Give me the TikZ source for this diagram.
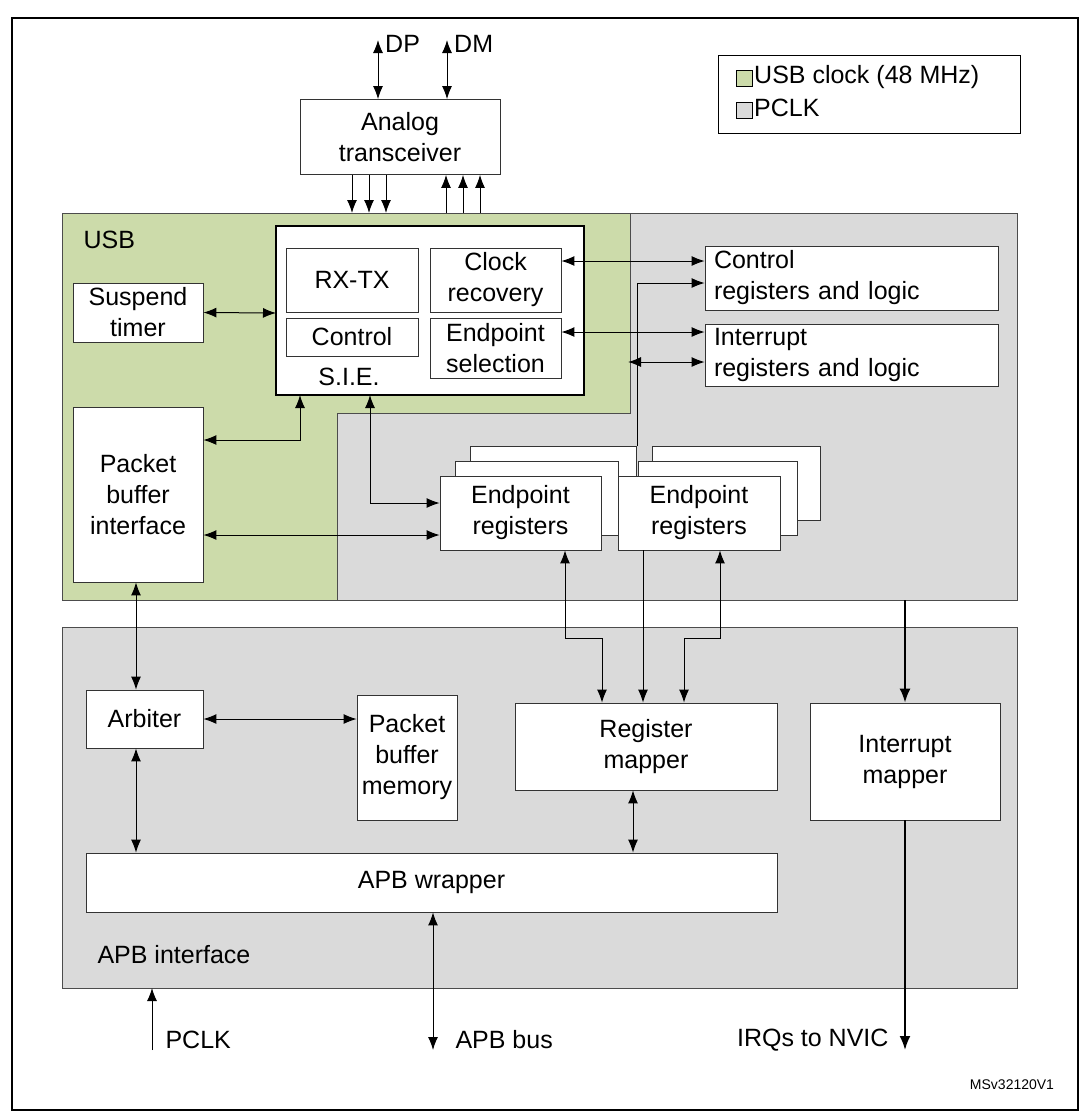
\documentclass[tikz,border=0pt]{standalone}
\usepackage{fontspec}
\setmainfont{Liberation Sans}
\usetikzlibrary{arrows.meta}
\begin{document}
\begin{tikzpicture}[x=1pt,y=-1pt,
  box/.style={draw=black!80,fill=white,line width=0.8pt,align=center,font=\fontsize{25}{31}\selectfont},
  lbl/.style={font=\fontsize{25}{31}\selectfont,anchor=west},
  ar/.style={-{Latex[length=13pt,width=10pt]},line width=1pt},
  dar/.style={{Latex[length=13pt,width=10pt]}-{Latex[length=13pt,width=10pt]},line width=1pt},
  thk/.style={-{Latex[length=14pt,width=11pt]},line width=2pt}]
\useasboundingbox (0,0) rectangle (1079,1111);
\definecolor{usbg}{RGB}{204,219,170}
\definecolor{pg}{RGB}{218,218,218}
\draw[line width=1.2pt] (12,18) rectangle (1078,1110);
% legend
\draw[line width=0.8pt] (718,55) rectangle (1020,133);
\node[draw,fill=usbg,minimum size=16pt,inner sep=0] (lg) at (744,78) {};
\node[draw,fill=pg,minimum size=16pt,inner sep=0] (lp) at (744,110) {};
\node[lbl,inner sep=2pt] (lgt) at (752,77) {USB clock (48 MHz)};
\node[lbl,inner sep=2pt] (lpt) at (752,108) {PCLK};
% regions
\draw[fill=pg,draw=black!70] (62,213) rectangle (1017,600);
\draw[fill=usbg,draw=black!70] (62,213) -- (630,213) -- (630,413) -- (337,413) -- (337,600) -- (62,600) -- cycle;
\node[lbl] (usb) at (80,240) {USB};
\draw[fill=pg,draw=black!70] (62,627) rectangle (1017,988);
\node[lbl] (apbi) at (94,955) {APB interface};
% analog
\node[box,minimum width=200pt,minimum height=75pt] (an) at (400,137) {Analog\\transceiver};
\coordinate (dp) at (378,40); \coordinate (dm) at (447,40);
\draw[dar] (an.north -| dp) -- (dp);
\draw[dar] (an.north -| dm) -- (dm);
\node[lbl,inner sep=1pt] at (384,44) {DP};
\node[lbl,inner sep=1pt] at (453,44) {DM};
\foreach \x in {352,369,386}{\coordinate (d\x) at (\x,213); \draw[ar] (an.south -| d\x) -- (d\x);}
\foreach \x in {446,463,480}{\coordinate (u\x) at (\x,213); \draw[ar] (u\x) -- (an.south -| u\x);}
% SIE
\draw[fill=white,line width=1.8pt] (276,226) rectangle (584,395);
\coordinate (sie) at (276,226);
\node[box,minimum width=132pt,minimum height=64pt] (rx) at (352,280) {RX-TX};
\node[box,minimum width=132pt,minimum height=38pt] (ctl) at (352,337) {Control};
\node[box,minimum width=131pt,minimum height=64pt] (clk) at (495.5,280) {Clock\\recovery};
\node[box,minimum width=131pt,minimum height=60pt] (eps) at (495.5,348) {Endpoint\\selection};
\node[font=\fontsize{25}{31}\selectfont] (siel) at (349,377) {S.I.E.};
\node[box,minimum width=130pt,minimum height=59pt] (sus) at (138,312.5) {Suspend\\timer};
\node[box,minimum width=130pt,minimum height=175pt] (pbi) at (138,494.5) {Packet\\buffer\\interface};
\node[box,minimum width=293pt,minimum height=64pt,align=left,text width=275pt] (cr) at (851.5,278) {Control\\registers and logic};
\node[box,minimum width=293pt,minimum height=62pt,align=left,text width=275pt] (ir) at (851.5,355) {Interrupt\\registers and logic};
% endpoint stacks
\draw[fill=white,draw=black!80,line width=0.8pt] (470,446) rectangle (636,520);
\draw[fill=white,draw=black!80,line width=0.8pt] (455,461) rectangle (618,535);
\node[box,minimum width=161pt,minimum height=74pt] (ep1) at (520.5,513) {Endpoint\\registers};
\draw[fill=white,draw=black!80,line width=0.8pt] (652,446) rectangle (820,520);
\draw[fill=white,draw=black!80,line width=0.8pt] (638,461) rectangle (797,535);
\node[box,minimum width=162pt,minimum height=74pt] (ep2) at (699,513) {Endpoint\\registers};
% SIE arrows
\draw[dar] (clk.east |- 0,261) -- (cr.west |- 0,261);
\draw[dar] (eps.east |- 0,332) -- (ir.west |- 0,332);
\draw[ar] (637,446) -- (637,283) -- (cr.west |- 0,283);
\draw[dar] (628,362) -- (ir.west |- 0,362);
\draw[dar] (sus.east) -- (276,313);
\draw[dar] (pbi.east |- 0,440) -- (300,440) -- (300,395);
\draw[dar] (370,395) -- (370,503) -- (ep1.west |- 0,503);
\draw[dar] (pbi.east |- 0,535) -- (ep1.west |- 0,535);
% bottom boxes
\node[box,minimum width=117pt,minimum height=58pt] (arb) at (144.5,719) {Arbiter};
\node[box,minimum width=100pt,minimum height=125pt] (pbm) at (407,757.5) {Packet\\buffer\\memory};
\node[box,minimum width=262pt,minimum height=87pt] (rm) at (646,746.5) {Register\\mapper};
\node[box,minimum width=190pt,minimum height=117pt] (im) at (905,761.5) {Interrupt\\mapper};
\node[box,minimum width=691pt,minimum height=59pt] (apb) at (431.5,882.5) {APB wrapper};
\draw[dar] (pbi.south -| 136,0) -- (arb.north -| 136,0);
\draw[dar] (arb.east) -- (pbm.west |- arb.east);
\draw[dar] (arb.south -| 136,0) -- (apb.north -| 136,0);
\draw[dar] (rm.south -| 633,0) -- (apb.north -| 633,0);
\draw[dar] (ep1.south -| 565,0) -- (565,638) -- (602,638) -- (rm.north -| 602,0);
\draw[ar] (ep2.south -| 643,0) -- (rm.north -| 643,0);
\draw[dar] (ep2.south -| 720,0) -- (720,638) -- (684,638) -- (rm.north -| 684,0);
\draw[thk] (905,600) -- (im.north);
\coordinate (irq) at (905,1050);
\draw[thk] (im.south) -- (irq);
\node[lbl,anchor=east] (irql) at (892,1040) {IRQs to NVIC};
\coordinate (pclk) at (152,1050);
\draw[ar] (pclk) -- (152,988);
\node[lbl] (pclkl) at (162,1040) {PCLK};
\coordinate (apbb) at (433,1050);
\draw[dar] (apb.south -| apbb) -- (apbb);
\node[lbl] (apbl) at (452,1040) {APB bus};
\node[font=\fontsize{14}{16}\selectfont] (ms) at (1012,1085) {MSv32120V1};
\end{tikzpicture}
\end{document}
